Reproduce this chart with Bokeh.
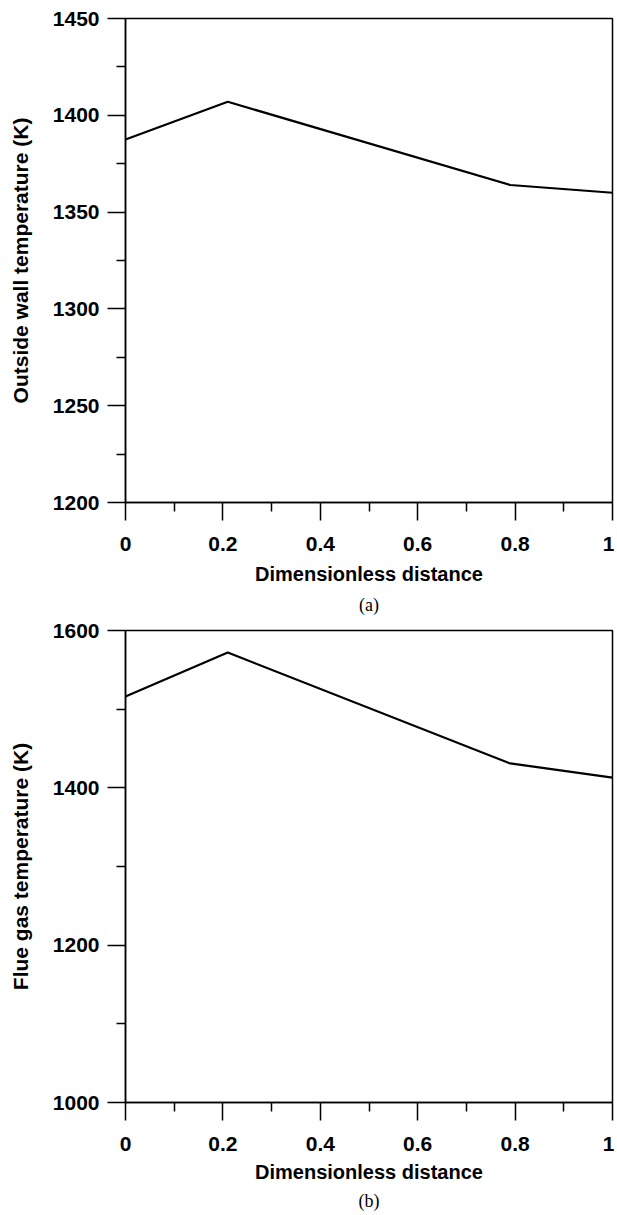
from bokeh.plotting import figure
from bokeh.models import FixedTicker, Range1d, Title
from bokeh.layouts import column
from bokeh.embed import file_html
from bokeh.resources import INLINE

# Data
x_vals = [0.0, 0.21, 0.79, 1.0]
wall_temp = [1387.5, 1407.0, 1364.0, 1360.0]
gas_temp = [1516.0, 1572.0, 1431.0, 1413.0]

x_ticks = [0, 0.2, 0.4, 0.6, 0.8, 1]
x_tick_labels = ["0", "0.2", "0.4", "0.6", "0.8", "1"]
x_minor = [0.1, 0.3, 0.5, 0.7, 0.9]

a_ticks = [1200, 1250, 1300, 1350, 1400, 1450]
a_minor = [1225, 1275, 1325, 1375, 1425]
b_ticks = [1000, 1200, 1400, 1600]
b_minor = [1100, 1300, 1500]

x_title = "Dimensionless distance"
a_ytitle = "Outside wall temperature (K)"
b_ytitle = "Flue gas temperature (K)"

FONT = "Liberation Sans"


def make(yvals, yr, yt, ym, ytitle, caption, height, top, bottom, title_standoff, cap_standoff):
    p = figure(width=614, height=height, output_backend="svg", toolbar_location=None,
               x_range=Range1d(0, 1), y_range=Range1d(*yr),
               min_border_left=125, min_border_right=2,
               min_border_top=top, min_border_bottom=bottom)
    p.line(x_vals, yvals, line_color="black", line_width=2.2)
    p.xgrid.visible = False
    p.ygrid.visible = False
    p.outline_line_color = "black"
    p.outline_line_width = 1.5
    p.outline_line_alpha = 1
    p.xaxis.ticker = FixedTicker(ticks=x_ticks, minor_ticks=x_minor)
    p.xaxis.major_label_overrides = {t: l for t, l in zip(x_ticks, x_tick_labels)}
    p.yaxis.ticker = FixedTicker(ticks=yt, minor_ticks=ym)
    for ax in (p.xaxis, p.yaxis):
        ax.axis_line_color = "black"
        ax.axis_line_width = 1.5
        ax.major_tick_line_color = "black"
        ax.major_tick_line_width = 1.5
        ax.minor_tick_line_color = "black"
        ax.minor_tick_line_width = 1.5
        ax.major_tick_in = 0
        ax.major_tick_out = 18
        ax.minor_tick_in = 0
        ax.minor_tick_out = 9
        ax.major_label_text_font = FONT
        ax.major_label_text_font_style = "bold"
        ax.major_label_text_font_size = "21px"
        ax.major_label_text_color = "black"
        ax.axis_label_text_font = FONT
        ax.axis_label_text_font_style = "bold"
        ax.axis_label_text_color = "black"
    p.xaxis.axis_label = x_title
    p.xaxis.axis_label_text_font_size = "20px"
    p.xaxis.major_label_standoff = 16
    p.xaxis.axis_label_standoff = title_standoff
    p.yaxis.axis_label = ytitle
    p.yaxis.axis_label_text_font_size = "21px"
    p.yaxis.major_label_standoff = 8
    p.yaxis.axis_label_standoff = 18
    p.add_layout(Title(text=caption, align="center", text_font="Liberation Serif",
                       text_font_style="normal", text_font_size="18px",
                       text_color="black", standoff=cap_standoff), "below")
    return p


pa = make(wall_temp, (1200, 1450), a_ticks, a_minor, a_ytitle, "(a)", 619, 18, 117, 9, 10)
pb = make(gas_temp, (1000, 1600), b_ticks, b_minor, b_ytitle, "(b)", 594, 11, 111, 7, 6)

layout = column(pa, pb, spacing=0)
open("out.html", "w").write(file_html(layout, INLINE))
